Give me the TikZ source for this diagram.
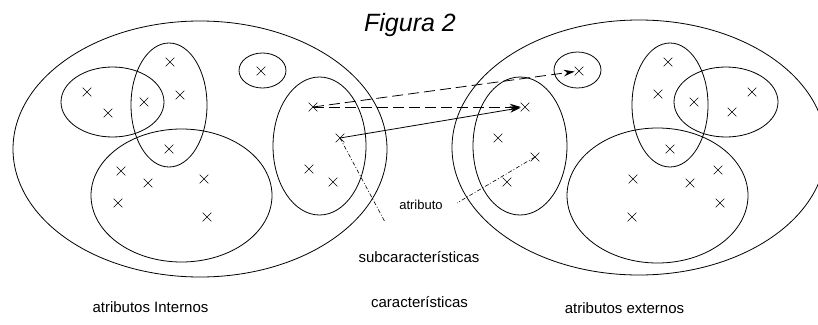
\documentclass[tikz,border=0pt]{standalone}
\usepackage{fontspec}
\setmainfont{Liberation Sans}
\usetikzlibrary{shapes.misc,arrows.meta}

\begin{document}
\begin{tikzpicture}[x=1pt,y=-1pt,line width=0.8pt,
    elem/.style={cross out,draw,minimum size=8pt,inner sep=0pt,line width=0.6pt},
    flecha/.style={-{Stealth[length=11pt,width=6.5pt]}},
    guion/.style={dash pattern=on 11pt off 5pt},
    rayado/.style={dash pattern=on 4pt off 2pt on 1pt off 2pt},
    etiq/.style={font=\fontsize{15}{15}\selectfont,inner sep=0pt,anchor=base}]
    \useasboundingbox (0,0) rectangle (818,324);
    % conjuntos internos
    \draw (200,149) ellipse (187pt and 128pt);
    \draw (112.5,102) ellipse (51.5pt and 35pt);
    \draw (169,105) ellipse (38pt and 62pt);
    \draw (181.5,195.5) ellipse (90.5pt and 66.5pt);
    \draw (262.5,70.5) ellipse (23.5pt and 17.5pt);
    \draw (319.5,146) ellipse (46.5pt and 69pt);
    % conjuntos externos
    \draw (639,147.5) ellipse (187pt and 127.5pt);
    \draw (577.5,70) ellipse (23.5pt and 18pt);
    \draw (520,146) ellipse (47pt and 69pt);
    \draw (670,105) ellipse (38pt and 62pt);
    \draw (726,102) ellipse (52pt and 35pt);
    \draw (657.5,195.5) ellipse (90.5pt and 67.5pt);
    % atributos
    \foreach \i/\x/\y in {1/87/92,2/108/113,3/144/102,4/180/95,5/170/62,6/169/149,
        7/121/171,8/148/183,9/204/179,10/118/203,11/207/217,12/261/71,
        13/313/107,14/340/138,15/309/169,16/333/182} {
        \node[elem] (a\i) at (\x,\y) {};
    }
    \foreach \i/\x/\y in {1/579/71,2/525/107,3/498/138,4/535/157,5/507/182,6/668/62,
        7/658/94,8/694/102,9/670/149,10/752/92,11/732/112,12/633/179,
        13/690/183,14/718/170,15/720/203,16/632/217} {
        \node[elem] (b\i) at (\x,\y) {};
    }
    % relaciones
    \draw[guion,flecha] (a13.center) -- (b1);
    \draw[guion,flecha] (a13.center) -- (b2);
    \draw[flecha] (a14.center) -- (b2);
    \coordinate (pA) at (385,222);
    \coordinate (pB) at (457,203);
    \draw[rayado,line width=0.6pt] (a14.center) -- (pA);
    \draw[rayado,line width=0.6pt] (b4.center) -- (pB);
    % textos
    \node[font=\fontsize{25}{25}\selectfont\itshape,inner sep=0pt,anchor=base] (tit) at (410,31) {Figura 2};
    \node[etiq,font=\fontsize{13}{13}\selectfont] (atr) at (421,209) {atributo};
    \node[etiq] (sub) at (419,262) {subcaracterísticas};
    \node[etiq] (car) at (419.5,307) {características};
    \node[etiq] (ain) at (150.5,312) {atributos Internos};
    \node[etiq] (aex) at (624.5,313) {atributos externos};
\end{tikzpicture}
\end{document}
